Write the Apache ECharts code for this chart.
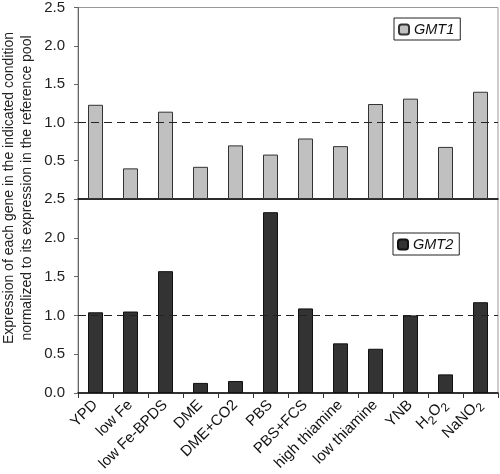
<!DOCTYPE html>
<html>
<head>
<meta charset="utf-8">
<script src="https://cdn.jsdelivr.net/npm/echarts@6/dist/echarts.min.js"></script>
<style>html,body{margin:0;padding:0;background:#fff;}#c{width:500px;height:474px;}</style>
</head>
<body>
<div id="c"></div>
<script>
const categories = ['YPD','low Fe','low Fe-BPDS','DME','DME+CO2','PBS','PBS+FCS','high thiamine','low thiamine','YNB','H2O2','NaNO2'];
const gmt1 = [1.23,0.40,1.14,0.42,0.70,0.58,0.79,0.69,1.24,1.31,0.68,1.40];
const gmt2 = [1.04,1.05,1.57,0.13,0.155,2.33,1.09,0.64,0.57,1.00,0.24,1.17];
const seriesNames = ['GMT1','GMT2'];
const yTitleLines = ['Expression of each gene in the indicated condition','normalized to its expression in the reference pool'];
const refLevel = 1.0;

const font = 'Arial, "Liberation Sans", sans-serif';
const chart = echarts.init(document.getElementById('c'), null, {renderer:'canvas'});

function fmtCat(v){
  if (v === 'H2O2') return '{n|H}{s|2}{n|O}{s|2}';
  if (v === 'NaNO2') return '{n|NaNO}{s|2}';
  return '{n|' + v + '}';
}
const yAxisCommon = {
  type:'value', min:0, max:2.5, interval:0.5,
  axisLine:{show:true, lineStyle:{color:'#666', width:1}},
  axisTick:{show:true, length:4, lineStyle:{color:'#666'}},
  splitLine:{show:false},
  axisLabel:{color:'#222', fontSize:15, fontFamily:font, margin:13, formatter:v=>v.toFixed(1)}
};
const markLine = {
  silent:true, symbol:'none', label:{show:false},
  lineStyle:{color:'#222', type:[8,5], width:1},
  data:[{yAxis:refLevel}]
};
const legendCommon = {orient:'vertical', borderColor:'#222', borderWidth:1, padding:[4,6,3,4],
  itemWidth:10, itemHeight:10, itemGap:0,
  textStyle:{fontStyle:'italic', fontSize:14.5, fontFamily:font, color:'#111'}};
chart.setOption({
  animation:false,
  grid:[
    {left:78, top:5, width:420, height:194, show:true, borderColor:'#999', borderWidth:1, backgroundColor:'transparent'},
    {left:78, top:199, width:420, height:194, show:true, borderColor:'#999', borderWidth:1, backgroundColor:'transparent'}
  ],
  legend:[
    Object.assign({data:[seriesNames[0]], left:394, top:18}, legendCommon),
    Object.assign({data:[seriesNames[1]], left:393, top:233}, legendCommon)
  ],
  xAxis:[
    {type:'category', gridIndex:0, data:categories,
     axisLine:{show:true, lineStyle:{color:'#000', width:1.5}}, axisTick:{show:false}, axisLabel:{show:false}},
    {type:'category', gridIndex:1, data:categories,
     axisLine:{show:true, lineStyle:{color:'#000', width:1.5}},
     axisTick:{show:true, length:5, inside:false, lineStyle:{color:'#333'}},
     axisLabel:{rotate:45, interval:0, color:'#111', fontSize:15, fontFamily:font, margin:10,
       formatter:fmtCat,
       rich:{
         n:{fontSize:15, fontFamily:font, color:'#111', verticalAlign:'top', lineHeight:16},
         s:{fontSize:12, fontFamily:font, color:'#111', verticalAlign:'bottom', padding:[7,0,0,0]}
       }}}
  ],
  yAxis:[
    Object.assign({}, yAxisCommon, {gridIndex:0, axisLabel:Object.assign({}, yAxisCommon.axisLabel, {showMinLabel:false})}),
    Object.assign({}, yAxisCommon, {gridIndex:1})
  ],
  graphic:[
    {type:'text', x:9, y:188, rotation:Math.PI/2, style:{text:yTitleLines[0], font:'14px '+font, fill:'#222', align:'center', verticalAlign:'middle'}},
    {type:'text', x:27.5, y:188, rotation:Math.PI/2, style:{text:yTitleLines[1], font:'14px '+font, fill:'#222', align:'center', verticalAlign:'middle'}}
  ],
  series:[
    {name:seriesNames[0], type:'bar', xAxisIndex:0, yAxisIndex:0, data:gmt1, barWidth:15,
     itemStyle:{color:'#c0c0c0', borderColor:'#333', borderWidth:1}, markLine:markLine},
    {name:seriesNames[1], type:'bar', xAxisIndex:1, yAxisIndex:1, data:gmt2, barWidth:15,
     itemStyle:{color:'#333333', borderColor:'#111', borderWidth:1}, markLine:markLine}
  ]
});
</script>
</body>
</html>
